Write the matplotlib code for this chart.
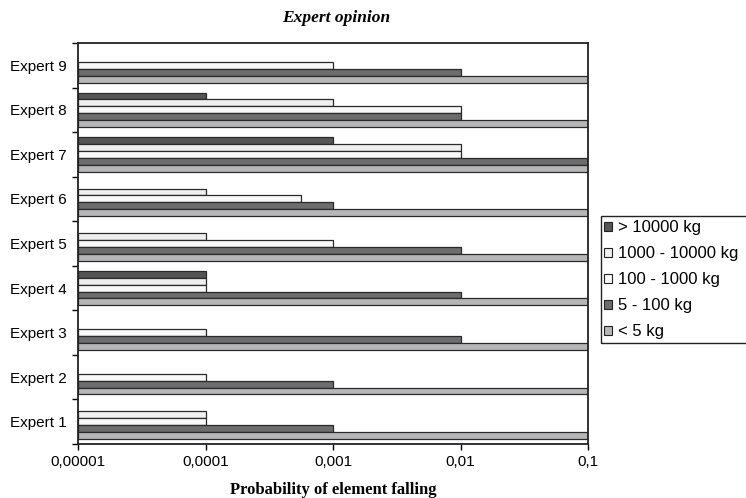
import matplotlib.pyplot as plt
import numpy as np
from matplotlib.patches import Patch, Rectangle
from matplotlib.ticker import FixedLocator, NullFormatter

# Experts, bottom to top
experts = ["Expert 1", "Expert 2", "Expert 3", "Expert 4", "Expert 5",
           "Expert 6", "Expert 7", "Expert 8", "Expert 9"]

# Probability per mass class (nan = no bar)
nan = np.nan
p_over_10000 = [nan, nan, nan, 0.0001, nan, nan, 0.001, 0.0001, nan]
p_1000_10000 = [0.0001, nan, nan, 0.0001, 0.0001, 0.0001, 0.01, 0.001, nan]
p_100_1000 = [0.0001, 0.0001, 0.0001, 0.0001, 0.001, 0.00056, 0.01, 0.01, 0.001]
p_5_100 = [0.001, 0.001, 0.01, 0.01, 0.01, 0.001, 0.1, 0.01, 0.01]
p_under_5 = [0.1, 0.1, 0.1, 0.1, 0.1, 0.1, 0.1, 0.1, 0.1]

series = [
    ("> 10000 kg", p_over_10000, "#555555"),
    ("1000 - 10000 kg", p_1000_10000, "#efefef"),
    ("100 - 1000 kg", p_100_1000, "#f8f8f8"),
    ("5 - 100 kg", p_5_100, "#6d6d6d"),
    ("< 5 kg", p_under_5, "#b6b6b9"),
]

xmin, xmax = 1e-5, 0.1
sans = "Liberation Sans"
serif = "Liberation Serif"

fig = plt.figure(figsize=(7.46, 4.98), dpi=100)
ax = fig.add_axes([78 / 746, 1 - 444 / 498, 510 / 746, 401 / 498])

y = np.arange(len(experts))
h = 0.155
for k, (name, vals, col) in enumerate(series):
    vals = np.array(vals, dtype=float)
    off = (2 - k) * h
    ax.barh(y + off, vals - xmin, left=xmin, height=h, color=col,
            edgecolor="#2a2a2a", linewidth=0.9, label=name)

ax.set_xscale("log")
ax.set_xlim(xmin, xmax)
ax.set_ylim(-0.5, len(experts) - 0.5)

ax.set_xticks([1e-5, 1e-4, 1e-3, 1e-2, 1e-1])
ax.set_xticklabels(["0,00001", "0,0001", "0,001", "0,01", "0,1"],
                   fontfamily=sans, fontsize=11)
ax.xaxis.set_minor_locator(FixedLocator([]))
ax.tick_params(axis="x", direction="out", length=4, width=1, pad=4)

# category boundaries as ticks, labels centred on the groups
ax.yaxis.set_major_locator(FixedLocator(np.arange(len(experts) + 1) - 0.5))
ax.yaxis.set_major_formatter(NullFormatter())
ax.yaxis.set_minor_locator(FixedLocator(y))
ax.set_yticklabels(experts, minor=True, fontfamily=sans, fontsize=11)
ax.tick_params(axis="y", which="major", direction="out", length=4, width=1)
ax.tick_params(axis="y", which="minor", length=0, pad=8)

for s in ax.spines.values():
    s.set_linewidth(1.3)
    s.set_color("#222222")

ax.set_xlabel("Probability of element falling", fontfamily=serif,
              fontweight="bold", fontsize=12, labelpad=9)
fig.text(336 / 746, 1 - 18 / 498, "Expert opinion", fontfamily=serif,
         fontweight="bold", fontstyle="italic", fontsize=12.5,
         ha="center", va="center")

# legend box runs off the right edge of the figure
fig.patches.append(Rectangle((601 / 746, 1 - 343 / 498), 160 / 746, 127 / 498,
                             transform=fig.transFigure, fill=False,
                             edgecolor="#222222", linewidth=1.0))
handles = [Patch(facecolor=c, edgecolor="#222222", linewidth=0.8, label=n)
           for n, _, c in series]
leg = fig.legend(handles=handles, loc="upper left",
                 bbox_to_anchor=(604 / 746, 1 - 220 / 498),
                 prop={"family": sans, "size": 12}, frameon=False,
                 handlelength=0.45, handleheight=0.45, handletextpad=0.4,
                 borderpad=0, labelspacing=0.66, borderaxespad=0)

fig.savefig("out.png", dpi=100)
